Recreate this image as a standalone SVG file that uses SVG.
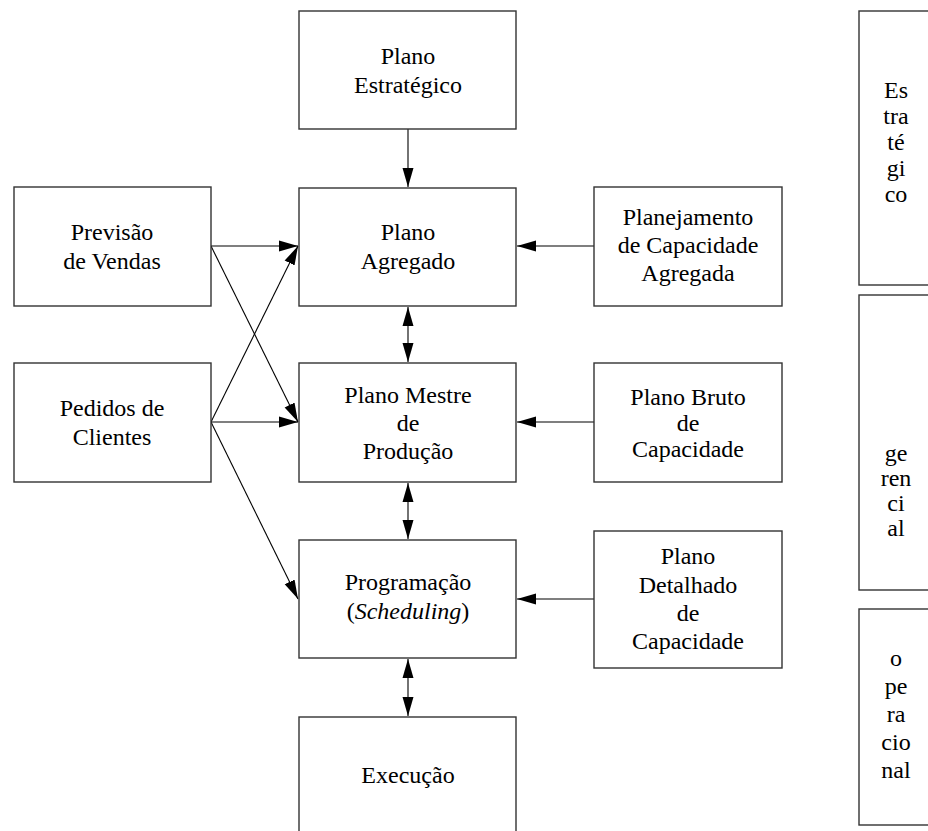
<svg xmlns="http://www.w3.org/2000/svg" width="928" height="831" viewBox="0 0 928 831">
<style>
.box{fill:#fff;stroke:#333;stroke-width:1.4}
.t{font-family:"Liberation Serif","Times New Roman",serif;font-size:24px;fill:#000;text-anchor:middle}
.c{stroke:#000;stroke-width:1.1;fill:none}
</style>
<defs>
<marker id="ah" markerUnits="userSpaceOnUse" markerWidth="20" markerHeight="12" refX="19" refY="5.5" orient="auto-start-reverse" viewBox="0 0 20 11">
<path d="M0,0 L19,5.5 L0,11 z" fill="#000"/>
</marker>
</defs>
<rect x="0" y="0" width="928" height="831" fill="#fff"/>
<g id="connectors">
<line class="c" x1="408" y1="129" x2="408" y2="187" marker-end="url(#ah)"/>
<line class="c" x1="408" y1="307" x2="408" y2="362" marker-start="url(#ah)" marker-end="url(#ah)"/>
<line class="c" x1="408" y1="483" x2="408" y2="539" marker-start="url(#ah)" marker-end="url(#ah)"/>
<line class="c" x1="408" y1="659" x2="408" y2="716" marker-start="url(#ah)" marker-end="url(#ah)"/>
<line class="c" x1="594" y1="246" x2="517" y2="246" marker-end="url(#ah)"/>
<line class="c" x1="594" y1="422" x2="517" y2="422" marker-end="url(#ah)"/>
<line class="c" x1="594" y1="599" x2="517" y2="599" marker-end="url(#ah)"/>
<line class="c" x1="211" y1="246" x2="298" y2="246" marker-end="url(#ah)"/>
<line class="c" x1="211" y1="246" x2="298" y2="422" marker-end="url(#ah)"/>
<line class="c" x1="211" y1="422" x2="298" y2="246" marker-end="url(#ah)"/>
<line class="c" x1="211" y1="422" x2="298" y2="422" marker-end="url(#ah)"/>
<line class="c" x1="211" y1="422" x2="298" y2="599" marker-end="url(#ah)"/>
</g>
<g id="plano-estrategico">
<rect class="box" x="299" y="11" width="217" height="118"/>
<text class="t" x="408" y="64">Plano</text>
<text class="t" x="408" y="93">Estratégico</text>
</g>
<g id="plano-agregado">
<rect class="box" x="299" y="188" width="217" height="118"/>
<text class="t" x="408" y="240">Plano</text>
<text class="t" x="408" y="269">Agregado</text>
</g>
<g id="plano-mestre">
<rect class="box" x="299" y="363" width="217" height="119"/>
<text class="t" x="408" y="403">Plano Mestre</text>
<text class="t" x="408" y="431">de</text>
<text class="t" x="408" y="459">Produção</text>
</g>
<g id="programacao">
<rect class="box" x="299" y="540" width="217" height="118"/>
<text class="t" x="408" y="590">Programação</text>
<text class="t" x="408" y="619">(<tspan font-style="italic">Scheduling</tspan>)</text>
</g>
<g id="execucao">
<rect class="box" x="299" y="717" width="217" height="130"/>
<text class="t" x="408" y="783">Execução</text>
</g>
<g id="previsao">
<rect class="box" x="14" y="187" width="197" height="119"/>
<text class="t" x="112" y="240">Previsão</text>
<text class="t" x="112" y="269">de Vendas</text>
</g>
<g id="pedidos">
<rect class="box" x="14" y="363" width="197" height="119"/>
<text class="t" x="112" y="416">Pedidos de</text>
<text class="t" x="112" y="445">Clientes</text>
</g>
<g id="cap-agregada">
<rect class="box" x="594" y="187" width="188" height="119"/>
<text class="t" x="688" y="225">Planejamento</text>
<text class="t" x="688" y="253">de Capacidade</text>
<text class="t" x="688" y="281">Agregada</text>
</g>
<g id="plano-bruto">
<rect class="box" x="594" y="363" width="188" height="119"/>
<text class="t" x="688" y="405">Plano Bruto</text>
<text class="t" x="688" y="431">de</text>
<text class="t" x="688" y="457">Capacidade</text>
</g>
<g id="plano-detalhado">
<rect class="box" x="594" y="531" width="188" height="137"/>
<text class="t" x="688" y="564">Plano</text>
<text class="t" x="688" y="593">Detalhado</text>
<text class="t" x="688" y="621">de</text>
<text class="t" x="688" y="649">Capacidade</text>
</g>
<g id="estrategico">
<rect class="box" x="859" y="11" width="80" height="274"/>
<text class="t" x="896" y="98">Es</text>
<text class="t" x="896" y="124">tra</text>
<text class="t" x="896" y="150">té</text>
<text class="t" x="896" y="176">gi</text>
<text class="t" x="896" y="202">co</text>
</g>
<g id="gerencial">
<rect class="box" x="859" y="295" width="80" height="295"/>
<text class="t" x="896" y="461">ge</text>
<text class="t" x="896" y="486">ren</text>
<text class="t" x="896" y="511">ci</text>
<text class="t" x="896" y="536">al</text>
</g>
<g id="operacional">
<rect class="box" x="859" y="609" width="80" height="216"/>
<text class="t" x="896" y="666">o</text>
<text class="t" x="896" y="694">pe</text>
<text class="t" x="896" y="722">ra</text>
<text class="t" x="896" y="750">cio</text>
<text class="t" x="896" y="778">nal</text>
</g>
</svg>
